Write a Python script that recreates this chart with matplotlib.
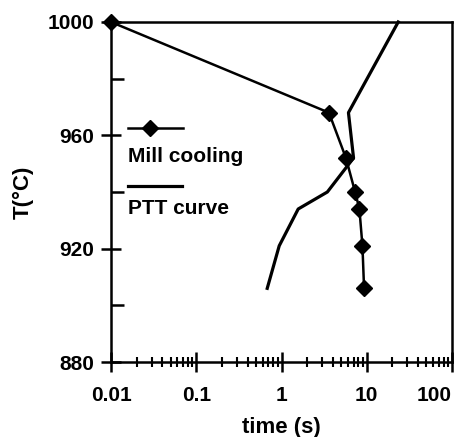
import matplotlib
matplotlib.use("Agg")
import matplotlib.pyplot as plt
from matplotlib.ticker import LogLocator, NullFormatter, FixedLocator, FixedFormatter

plt.rcParams['font.family'] = ['Liberation Sans', 'DejaVu Sans']
plt.rcParams['font.weight'] = 'bold'

mill_time = [0.01, 3.6, 5.7, 7.3, 8.2, 8.9, 9.3]
mill_temp = [1000, 968, 952, 940, 934, 921, 906]

ptt_time = [23.4, 6.1, 7.0, 3.45, 1.57, 0.94, 0.68]
ptt_temp = [1000, 968, 952, 940, 934, 921, 906]

x_ticks = [0.01, 0.1, 1, 10, 100]
x_labels = ["0.01", "0.1", "1", "10", "100"]
y_ticks = [880, 920, 960, 1000]
y_labels = ["880", "920", "960", "1000"]
y_minor = [900, 940, 980]

fig = plt.figure(figsize=(4.54, 4.37), dpi=100)
ax = fig.add_axes([0.2445, 0.1716, 0.7511, 0.7781])

ax.plot(mill_time, mill_temp, color='black', lw=1.8, marker='D', ms=8.5,
        clip_on=False, zorder=3)
ax.plot(ptt_time, ptt_temp, color='black', lw=2.3, clip_on=False, zorder=3)

ax.set_xscale('log')
ax.set_xlim(0.01, 100)
ax.set_ylim(880, 1000)

ax.xaxis.set_major_locator(FixedLocator(x_ticks))
ax.xaxis.set_major_formatter(FixedFormatter(x_labels))
ax.xaxis.set_minor_locator(LogLocator(base=10, subs=range(2, 10), numticks=20))
ax.xaxis.set_minor_formatter(NullFormatter())
ax.yaxis.set_major_locator(FixedLocator(y_ticks))
ax.yaxis.set_major_formatter(FixedFormatter(y_labels))
ax.yaxis.set_minor_locator(FixedLocator(y_minor))

for s in ax.spines.values():
    s.set_linewidth(1.8)

ax.tick_params(axis='x', which='major', direction='inout', length=14, width=1.8,
               labelsize=15, pad=10)
ax.tick_params(axis='x', which='minor', direction='inout', length=7, width=1.5)
ax.tick_params(axis='y', which='major', direction='inout', length=14, width=1.8,
               labelsize=15, pad=5)
ax.tick_params(axis='y', which='minor', direction='in', length=9, width=1.8)
for lab in ax.get_xticklabels() + ax.get_yticklabels():
    lab.set_fontweight('bold')
ax.get_xticklabels()[-1].set_horizontalalignment('right')

ax.set_xlabel("time (s)", fontsize=16, fontweight='bold', labelpad=9)
ax.set_ylabel("T(°C)", fontsize=16, fontweight='bold', labelpad=10)

# custom legend (sample above text)
ax.plot([0.05, 0.211], [0.688, 0.688], transform=ax.transAxes, color='black',
        lw=1.8, clip_on=False)
ax.plot([0.114], [0.688], transform=ax.transAxes, color='black', marker='D',
        ms=8.5, clip_on=False)
ax.text(0.05, 0.605, "Mill cooling", transform=ax.transAxes, fontsize=15,
        fontweight='bold', va='center', ha='left')
ax.plot([0.05, 0.208], [0.518, 0.518], transform=ax.transAxes, color='black',
        lw=2.3, clip_on=False)
ax.text(0.05, 0.45, "PTT curve", transform=ax.transAxes, fontsize=15,
        fontweight='bold', va='center', ha='left')

fig.savefig("out.png", dpi=100)
